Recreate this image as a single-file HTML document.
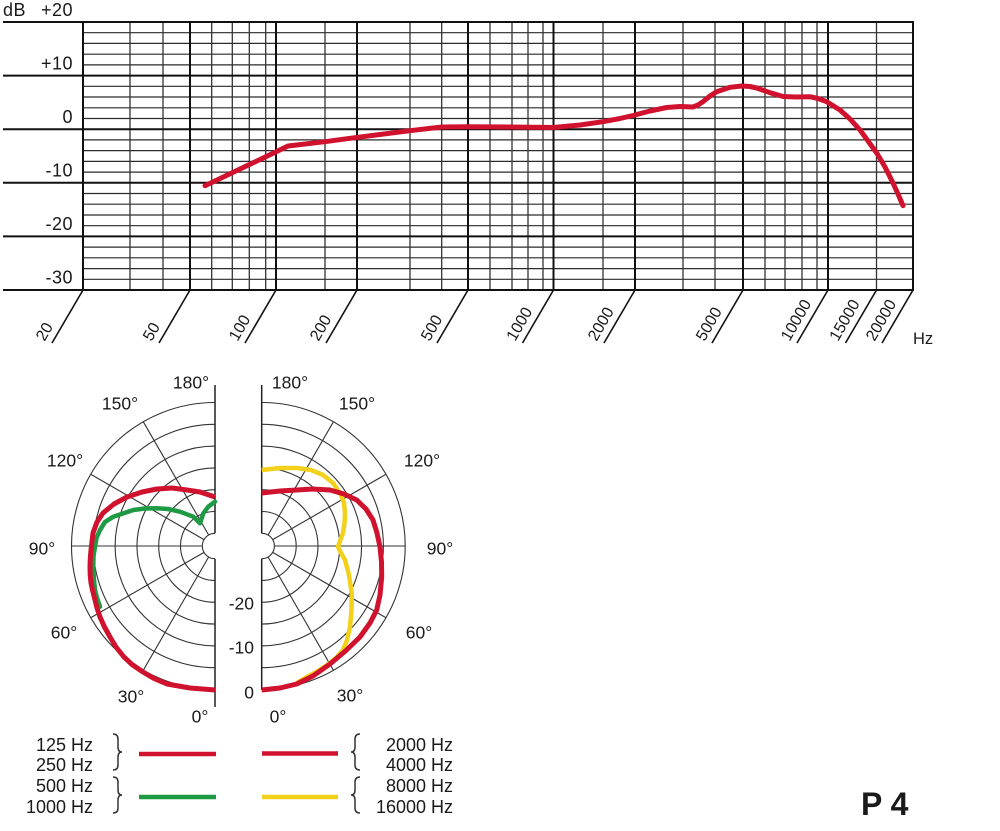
<!DOCTYPE html>
<html><head><meta charset="utf-8"><style>
html,body{margin:0;padding:0;background:#fff;}
svg{display:block;}
text{font-family:"Liberation Sans",Arial,sans-serif;fill:#1a1a1a;}
</style></head><body>
<svg width="1000" height="831" viewBox="0 0 1000 831" xmlns="http://www.w3.org/2000/svg">
<rect width="1000" height="831" fill="#fff"/>
<!-- minor horizontal -->
<g stroke="#2a2a2a" stroke-width="1.2">
<line x1="83" x2="913" y1="32.7" y2="32.7"/><line x1="83" x2="913" y1="43.4" y2="43.4"/><line x1="83" x2="913" y1="54.2" y2="54.2"/><line x1="83" x2="913" y1="64.9" y2="64.9"/>
<line x1="83" x2="913" y1="86.3" y2="86.3"/><line x1="83" x2="913" y1="97" y2="97"/><line x1="83" x2="913" y1="107.8" y2="107.8"/><line x1="83" x2="913" y1="118.5" y2="118.5"/>
<line x1="83" x2="913" y1="139.9" y2="139.9"/><line x1="83" x2="913" y1="150.6" y2="150.6"/><line x1="83" x2="913" y1="161.4" y2="161.4"/><line x1="83" x2="913" y1="172.1" y2="172.1"/>
<line x1="83" x2="913" y1="193.5" y2="193.5"/><line x1="83" x2="913" y1="204.2" y2="204.2"/><line x1="83" x2="913" y1="215" y2="215"/><line x1="83" x2="913" y1="225.7" y2="225.7"/>
<line x1="83" x2="913" y1="247.1" y2="247.1"/><line x1="83" x2="913" y1="257.8" y2="257.8"/><line x1="83" x2="913" y1="268.6" y2="268.6"/><line x1="83" x2="913" y1="279.3" y2="279.3"/>
</g>
<!-- thin vertical -->
<g stroke="#333" stroke-width="1.3">
<line x1="130" x2="130" y1="22" y2="290"/><line x1="163" x2="163" y1="22" y2="290"/>
<line x1="211.7" x2="211.7" y1="22" y2="290"/><line x1="232.3" x2="232.3" y1="22" y2="290"/><line x1="249.3" x2="249.3" y1="22" y2="290"/><line x1="265.7" x2="265.7" y1="22" y2="290"/>
<line x1="325" x2="325" y1="22" y2="290"/>
<line x1="410" x2="410" y1="22" y2="290"/><line x1="441.7" x2="441.7" y1="22" y2="290"/>
<line x1="490" x2="490" y1="22" y2="290"/><line x1="512" x2="512" y1="22" y2="290"/><line x1="528" x2="528" y1="22" y2="290"/><line x1="543" x2="543" y1="22" y2="290"/>
<line x1="603" x2="603" y1="22" y2="290"/>
<line x1="683" x2="683" y1="22" y2="290"/><line x1="715" x2="715" y1="22" y2="290"/>
<line x1="765" x2="765" y1="22" y2="290"/><line x1="785" x2="785" y1="22" y2="290"/><line x1="802" x2="802" y1="22" y2="290"/><line x1="817" x2="817" y1="22" y2="290"/>
<line x1="876.5" x2="876.5" y1="22" y2="290"/>
</g>
<!-- thick vertical -->
<g stroke="#111" stroke-width="2">
<line x1="83" x2="83" y1="22" y2="290"/><line x1="190" x2="190" y1="22" y2="290"/><line x1="276" x2="276" y1="22" y2="290"/>
<line x1="357" x2="357" y1="22" y2="290"/><line x1="468" x2="468" y1="22" y2="290"/><line x1="553.5" x2="553.5" y1="22" y2="290"/>
<line x1="635" x2="635" y1="22" y2="290"/><line x1="743" x2="743" y1="22" y2="290"/><line x1="828" x2="828" y1="22" y2="290"/>
<line x1="913" x2="913" y1="22" y2="290"/>
</g>
<!-- major horizontal -->
<g stroke="#111" stroke-width="2">
<line x1="3" x2="914" y1="22" y2="22"/><line x1="3" x2="914" y1="75.6" y2="75.6"/><line x1="3" x2="914" y1="129.2" y2="129.2"/>
<line x1="3" x2="914" y1="182.8" y2="182.8"/><line x1="3" x2="914" y1="236.4" y2="236.4"/><line x1="3" x2="914" y1="290" y2="290"/>
</g>
<!-- diagonal ticks -->
<g stroke="#111" stroke-width="1.6">
<line x1="83" y1="290" x2="52" y2="343"/><line x1="190" y1="290" x2="159" y2="343"/><line x1="276" y1="290" x2="245" y2="343"/>
<line x1="357" y1="290" x2="326" y2="343"/><line x1="468" y1="290" x2="437" y2="343"/><line x1="553.5" y1="290" x2="522.5" y2="343"/>
<line x1="635" y1="290" x2="604" y2="343"/><line x1="743" y1="290" x2="712" y2="343"/><line x1="828" y1="290" x2="797" y2="343"/>
<line x1="876.5" y1="290" x2="845.5" y2="343"/><line x1="913" y1="290" x2="882" y2="343"/>
</g>
<!-- y labels -->
<g font-size="18" letter-spacing="0.5">
<text x="3" y="16">dB</text>
<text x="73" y="16" text-anchor="end">+20</text>
<text x="73" y="69.5" text-anchor="end">+10</text>
<text x="73" y="123" text-anchor="end">0</text>
<text x="73" y="176.5" text-anchor="end">-10</text>
<text x="73" y="230" text-anchor="end">-20</text>
<text x="73" y="283.5" text-anchor="end">-30</text>
</g>
<!-- x labels -->
<g font-size="16">
<text transform="translate(44.5,342) rotate(-60)">20</text>
<text transform="translate(151.5,342) rotate(-60)">50</text>
<text transform="translate(237.5,342) rotate(-60)">100</text>
<text transform="translate(318.5,342) rotate(-60)">200</text>
<text transform="translate(429.5,342) rotate(-60)">500</text>
<text transform="translate(515,342) rotate(-60)">1000</text>
<text transform="translate(596.5,342) rotate(-60)">2000</text>
<text transform="translate(704.5,342) rotate(-60)">5000</text>
<text transform="translate(789.5,342) rotate(-60)">10000</text>
<text transform="translate(838,342) rotate(-60)">15000</text>
<text transform="translate(874.5,342) rotate(-60)">20000</text>
</g>
<text x="913" y="344" font-size="16.5">Hz</text>
<!-- response curve -->
<polyline fill="none" stroke="#d0122e" stroke-width="5" stroke-linejoin="round" stroke-linecap="round"
points="205,185.7 240,169 275.7,152 288,146 325,141.7 350,138.3 380,134.5 410,130.7 441.7,127 468,126.7 510,127 553,127.5 580,125 603,121.7 620,118.5 635,115 650,111 666.7,107.5 680,106.5 693,107 698,105 703,101.7 710,96 716.7,91.7 730,87.3 741.7,86 750,86.5 756.7,88 770,92.7 783,96.5 796,97 810,96.7 818,98.5 826.7,101.7 840,110 850,119 860,130 868,141 876.7,153 885,167 893,183 898,194 903,205.7"/>

<!-- LEFT POLAR -->
<g fill="none" stroke="#333" stroke-width="1.1">
<path d="M215 402.5 A143.5 143.5 0 0 0 215 689.5"/>
<path d="M215 424.3 A121.7 121.7 0 0 0 215 667.7"/>
<path d="M215 446.1 A99.9 99.9 0 0 0 215 645.9"/>
<path d="M215 467.9 A78.1 78.1 0 0 0 215 624.1"/>
<path d="M215 489.7 A56.3 56.3 0 0 0 215 602.3"/>
<path d="M215 511.5 A34.5 34.5 0 0 0 215 580.5"/>
<path d="M215 533.3 A12.7 12.7 0 0 0 215 558.7"/>
<line x1="208.65" y1="557" x2="143.25" y2="670.3"/>
<line x1="204" y1="552.35" x2="90.7" y2="617.75"/>
<line x1="202.3" y1="546" x2="71.5" y2="546"/>
<line x1="204" y1="539.65" x2="90.7" y2="474.25"/>
<line x1="208.65" y1="535" x2="143.25" y2="421.7"/>
</g>
<g stroke="#222" stroke-width="1.5">
<line x1="215" y1="385" x2="215" y2="533.3"/><line x1="215" y1="558.7" x2="215" y2="707"/>
</g>
<polyline fill="none" stroke="#1f9a44" stroke-width="4.5" stroke-linejoin="round" stroke-linecap="round"
points="215,501.7 208.3,506.7 203.3,513.3 200,523.3 193.3,516.7 180,511.7 168,509 156.7,508.3 145,508.5 133.3,510 113.3,516.7 105,522 100,530 96.5,538 95,546.7 93.5,556 93.3,566.7 93.8,578 95,590 97,598 100,606.7"/>
<polyline fill="none" stroke="#d0122e" stroke-width="5" stroke-linejoin="round" stroke-linecap="butt"
points="215,690 190,688 167,684 154,678.5 143,672 132,664.5 124,657 116,647 110,637 104.5,627 100,617 97,608 95,600 92.5,590 91,583 90.2,575 90,567 90.3,558 91,550 93,533 97,522 103,513 114,504 127,497 142,492 157,489 172,488 187,490 200,492 215,497"/>
<g font-size="17.5" text-anchor="middle">
<text x="191" y="388.5">180°</text>
<text x="120" y="409.5">150°</text>
<text x="65" y="466.5">120°</text>
<text x="42" y="554.5">90°</text>
<text x="64" y="638.5">60°</text>
<text x="131" y="702.5">30°</text>
<text x="200" y="722.5">0°</text>
</g>

<!-- RIGHT POLAR -->
<g fill="none" stroke="#333" stroke-width="1.1">
<path d="M261.7 402.5 A143.5 143.5 0 0 1 261.7 689.5"/>
<path d="M261.7 424.3 A121.7 121.7 0 0 1 261.7 667.7"/>
<path d="M261.7 446.1 A99.9 99.9 0 0 1 261.7 645.9"/>
<path d="M261.7 467.9 A78.1 78.1 0 0 1 261.7 624.1"/>
<path d="M261.7 489.7 A56.3 56.3 0 0 1 261.7 602.3"/>
<path d="M261.7 511.5 A34.5 34.5 0 0 1 261.7 580.5"/>
<path d="M261.7 533.3 A12.7 12.7 0 0 1 261.7 558.7"/>
<line x1="268.05" y1="557" x2="333.45" y2="670.3"/>
<line x1="272.7" y1="552.35" x2="386" y2="617.75"/>
<line x1="274.4" y1="546" x2="405.2" y2="546"/>
<line x1="272.7" y1="539.65" x2="386" y2="474.25"/>
<line x1="268.05" y1="535" x2="333.45" y2="421.7"/>
</g>
<g stroke="#222" stroke-width="1.5">
<line x1="261.7" y1="385" x2="261.7" y2="533.3"/><line x1="261.7" y1="558.7" x2="261.7" y2="690"/>
</g>
<polyline fill="none" stroke="#f3d11a" stroke-width="4.5" stroke-linejoin="round" stroke-linecap="butt"
points="261.7,470 280,468 296.7,468 311,470 323,475 333,483 340,493 344,503 345,513 344.5,523 343,533 340,541 338,547 341,553 345,560 349,575 351.7,593 351.5,610 350,627 347,640 343,650 337,657 330,663 318,671 305,678 296.7,683"/>
<polyline fill="none" stroke="#d0122e" stroke-width="5" stroke-linejoin="round" stroke-linecap="butt"
points="261.7,690 280,688 296.7,684 313,676 330,664 346,650.5 360,637 370,623 376.7,610 380,595 381.7,577 381.5,562 380,547 377,533 373,520 366,509 356.7,500 344,494 330,490 313,489 296.7,490 280,491 261.7,493"/>
<g font-size="17.5" text-anchor="middle">
<text x="290" y="388.5">180°</text>
<text x="357" y="409.5">150°</text>
<text x="422" y="466.5">120°</text>
<text x="440" y="554.5">90°</text>
<text x="419" y="638.5">60°</text>
<text x="350" y="701.5">30°</text>
<text x="278" y="722.5">0°</text>
</g>
<g font-size="17.5" text-anchor="end">
<text x="254" y="609.5">-20</text>
<text x="254" y="653.5">-10</text>
<text x="254" y="698.5">0</text>
</g>

<!-- LEGEND -->
<g font-size="18" text-anchor="end">
<text x="93" y="751">125 Hz</text>
<text x="93" y="771">250 Hz</text>
<text x="93" y="792">500 Hz</text>
<text x="93" y="813">1000 Hz</text>
<text x="453" y="751">2000 Hz</text>
<text x="453" y="771">4000 Hz</text>
<text x="453" y="792">8000 Hz</text>
<text x="453" y="813">16000 Hz</text>
</g>
<g fill="none" stroke="#333" stroke-width="1.5">
<path d="M113 734 Q118 734 118 739 L118 747 Q118 752 122 752 Q118 752 118 757 L118 765 Q118 770 113 770"/>
<path d="M113 777 Q118 777 118 782 L118 790 Q118 795 122 795 Q118 795 118 800 L118 808 Q118 813 113 813"/>
<path d="M360 734 Q355 734 355 739 L355 747 Q355 752 351 752 Q355 752 355 757 L355 765 Q355 770 360 770"/>
<path d="M360 777 Q355 777 355 782 L355 790 Q355 795 351 795 Q355 795 355 800 L355 808 Q355 813 360 813"/>
</g>
<g stroke-width="4.5">
<line x1="139" y1="754" x2="216" y2="754" stroke="#d0122e"/>
<line x1="139" y1="797" x2="216" y2="797" stroke="#1f9a44"/>
<line x1="262" y1="753.5" x2="338" y2="753.5" stroke="#d0122e"/>
<line x1="262" y1="797" x2="338" y2="797" stroke="#f3d11a"/>
</g>
<text x="861" y="815" font-size="32" font-weight="bold" fill="#111">P 4</text>
</svg>
</body></html>
